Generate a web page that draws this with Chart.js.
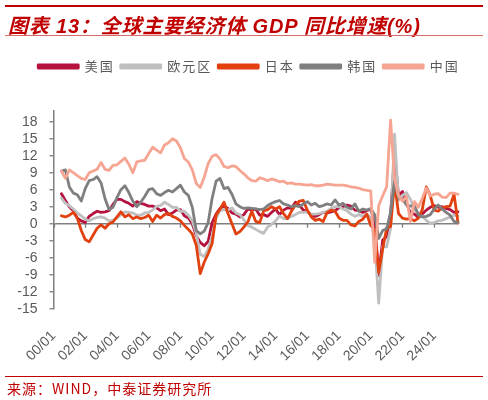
<!DOCTYPE html>
<html>
<head>
<meta charset="utf-8">
<script src="https://cdn.jsdelivr.net/npm/chart.js@4.4.1/dist/chart.umd.min.js"></script>
<style>
  html, body { margin: 0; padding: 0; background: #fff; }
  #wrap { position: relative; width: 488px; height: 400px; overflow: hidden; background: #fff; }
  #c { position: absolute; left: 0; top: 0; }
  .rule { position: absolute; left: 5px; width: 478px; }
  #title { position: absolute; left: 8px; top: 10px; line-height: 24px; white-space: nowrap;
    font: italic bold 20px "Liberation Sans", "Noto Sans CJK SC", sans-serif; color: #C00000; letter-spacing: 0.8px; }
  #source { position: absolute; left: 7px; top: 378px; line-height: 18px; white-space: nowrap;
    font: 14px "Noto Sans CJK SC", "Liberation Sans", sans-serif; color: #C00000; letter-spacing: 1px; }
</style>
</head>
<body>
<div id="wrap">
  <canvas id="c" width="488" height="400"></canvas>
  <div class="rule" style="top:5px;height:2px;background:#C00000"></div>
  <div id="title">图表 13：全球主要经济体 GDP 同比增速(%)</div>
  <div class="rule" style="top:35px;height:1px;background:#D96A6A"></div>
  <div class="rule" style="top:376px;height:1px;background:#C00000"></div>
  <div id="source">来源：WIND，中泰证券研究所</div>
</div>
<script>
// ---------- data ----------
const quarters = [
  '2000Q2','2000Q3','2000Q4',
  '2001Q1','2001Q2','2001Q3','2001Q4','2002Q1','2002Q2','2002Q3','2002Q4',
  '2003Q1','2003Q2','2003Q3','2003Q4','2004Q1','2004Q2','2004Q3','2004Q4',
  '2005Q1','2005Q2','2005Q3','2005Q4','2006Q1','2006Q2','2006Q3','2006Q4',
  '2007Q1','2007Q2','2007Q3','2007Q4','2008Q1','2008Q2','2008Q3','2008Q4',
  '2009Q1','2009Q2','2009Q3','2009Q4','2010Q1','2010Q2','2010Q3','2010Q4',
  '2011Q1','2011Q2','2011Q3','2011Q4','2012Q1','2012Q2','2012Q3','2012Q4',
  '2013Q1','2013Q2','2013Q3','2013Q4','2014Q1','2014Q2','2014Q3','2014Q4',
  '2015Q1','2015Q2','2015Q3','2015Q4','2016Q1','2016Q2','2016Q3','2016Q4',
  '2017Q1','2017Q2','2017Q3','2017Q4','2018Q1','2018Q2','2018Q3','2018Q4',
  '2019Q1','2019Q2','2019Q3','2019Q4','2020Q1','2020Q2','2020Q3','2020Q4',
  '2021Q1','2021Q2','2021Q3','2021Q4','2022Q1','2022Q2','2022Q3','2022Q4',
  '2023Q1','2023Q2','2023Q3','2023Q4','2024Q1','2024Q2','2024Q3','2024Q4',
  '2025Q1','2025Q2'
];
const seriesNames = ['美国', '欧元区', '日本', '韩国', '中国'];

const usGDP = [
  5.3, 4.1, 3.0,
  2.3, 1.0, 0.5, 0.2,   1.3, 1.8, 2.2, 2.0,
  2.1, 2.3, 3.4, 4.3,   4.3, 3.9, 3.6, 3.1,
  3.9, 3.6, 3.4, 3.1,   3.1, 2.8, 2.3, 2.6,
  1.6, 1.9, 2.4, 2.5,   1.4, 1.0, 0.0, -2.1,
  -3.3, -3.9, -3.1, 0.2, 1.7, 2.7, 3.1, 2.7,
  1.9, 1.7, 1.2, 1.6,   2.6, 2.4, 2.6, 1.5,
  1.6, 1.3, 2.0, 2.6,   1.6, 2.4, 2.8, 2.7,
  3.8, 3.3, 2.4, 2.2,   1.5, 1.3, 1.6, 2.0,
  1.9, 2.1, 2.3, 2.8,   3.0, 3.3, 3.1, 2.4,
  2.3, 2.0, 2.3, 2.6,   0.3, -9.1, -2.9, -2.3,
  1.6, 12.2, 5.0, 5.7,  3.6, 1.9, 1.7, 1.1,
  1.7, 2.4, 2.9, 3.2,   2.9, 3.0, 2.7, 2.5,
  2.0, 2.1
];
const euroGDP = [
  4.5, 3.6, 3.2,
  2.6, 1.9, 1.4, 0.8,   0.5, 0.9, 1.1, 1.2,
  1.0, 0.5, 0.6, 1.0,   1.6, 2.1, 2.0, 1.9,
  1.5, 1.5, 1.9, 2.0,   2.4, 3.1, 3.2, 3.8,
  3.4, 2.9, 2.9, 2.2,   2.2, 1.5, 0.5, -1.7,
  -5.4, -5.8, -4.5, -2.2, 1.0, 2.3, 2.5, 2.4,
  2.8, 1.9, 1.6, 0.7,   -0.3, -0.6, -1.0, -1.4,
  -1.7, -0.6, -0.1, 0.5, 1.4, 0.9, 0.9, 1.3,
  1.6, 2.0, 2.0, 2.1,   1.7, 1.7, 1.8, 2.0,
  2.2, 2.7, 3.0, 3.0,   2.6, 2.3, 1.7, 1.3,
  1.6, 1.3, 1.6, 1.1,   -3.1, -14.0, -4.0, -4.1,
  -0.8, 15.8, 4.1, 5.0, 5.5, 4.3, 2.5, 1.8,
  1.3, 0.6, 0.1, 0.2,   0.5, 0.6, 0.9, 1.2,
  1.5, 1.4
];
const japanGDP = [
  1.4, 1.2, 1.5,
  2.0, 1.0, -1.2, -2.8, -3.2, -2.0, -0.8, -0.2,
  -0.8, 0.0, 0.3, 1.2,  2.1, 1.2, 1.6, 0.9,
  1.2, 0.9, 1.1, 1.5,   0.4, 1.5, 1.0, 1.6,
  1.8, 1.3, 1.0, 0.5,   -0.3, -1.0, -1.8, -3.8,
  -8.8, -6.8, -5.3, -3.5, 1.5, 2.6, 3.8, 1.8,
  0.0, -1.8, -1.4, -0.6, 0.3, 2.2, 0.4, 0.2,
  2.3, 2.5, 3.0, 2.6,   3.0, 1.8, 0.9, 2.2,
  3.3, 4.0, 4.1, 2.4,   1.2, 0.6, 0.8, 0.4,
  2.0, 2.4, 2.2, 1.0,   0.6, 0.6, -0.2, -0.4,
  0.4, 0.8, 1.7, -0.3,  -1.0, -8.6, -4.5, -0.8,
  -0.5, 7.2, 1.8, 1.0,  0.8, 0.9, 0.5, 1.0,
  2.5, 6.5, 5.0, 2.4,   2.2, 2.8, 3.0, 3.1,
  5.2, 0.1
];
const koreaGDP = [
  9.3, 9.5, 6.5,
  5.4, 5.1, 4.0, 6.2,   7.6, 7.8, 8.3, 7.2,
  4.4, 2.5, 2.9, 4.6,   6.0, 6.7, 5.5, 4.0,
  3.0, 3.8, 4.8, 6.0,   6.2, 5.3, 5.0, 5.5,
  5.9, 5.6, 6.2, 6.8,   5.6, 5.0, 2.9, -1.2,
  -1.8, -1.3, 0.2, 4.5, 7.5, 8.0, 6.2, 6.4,
  5.2, 3.5, 3.0, 2.7,   2.8, 2.7, 2.6, 2.5,
  2.6, 3.2, 3.6, 3.9,   4.1, 3.5, 3.3, 3.0,
  3.2, 3.0, 3.5, 3.9,   3.3, 3.6, 3.0, 3.2,
  3.5, 3.3, 4.2, 3.3,   3.6, 2.9, 2.6, 3.5,
  2.2, 2.6, 2.4, 2.7,   1.6, -2.6, -1.2, -0.9,
  2.0, 7.5, 4.5, 4.4,   3.3, 3.1, 3.2, 1.6,
  1.2, 1.3, 1.6, 2.6,   3.3, 2.6, 2.0, 1.5,
  0.4, 0.2
];
const chinaGDP = [
  9.3, 8.0, 9.5,
  9.0, 8.5, 8.0, 7.8,   9.0, 9.3, 9.6, 10.8,
  9.6, 9.4, 10.3, 10.4, 11.0, 11.6, 10.5, 9.0,
  10.9, 11.1, 11.2, 12.4, 13.5, 13.0, 12.5, 13.9,
  14.3, 15.0, 14.6, 13.4, 11.5, 10.9, 9.5, 7.1,
  6.4, 8.2, 10.6, 11.9, 12.2, 11.4, 10.1, 9.9,
  10.2, 10.1, 9.4, 8.8, 8.1, 7.6, 7.5, 8.1,
  7.9, 7.6, 7.9, 7.7,   7.4, 7.5, 7.1, 7.2,
  7.0, 7.0, 6.9, 6.8,   6.9, 6.7, 6.7, 6.8,
  7.0, 6.9, 6.8, 6.8,   6.8, 6.7, 6.5, 6.4,
  6.3, 6.0, 5.9, 5.8,   -6.8, 3.2, 4.9, 6.5,
  18.3, 7.9, 4.9, 4.0,  4.8, 0.4, 3.9, 2.9,
  4.5, 6.3, 4.9, 5.2,   5.3, 4.7, 4.6, 5.4,
  5.4, 5.2
];

const xTickMonths = [0, 24, 48, 72, 96, 120, 144, 168, 192, 216, 240, 264, 288];
const xTickLabels = ['00/01','02/01','04/01','06/01','08/01','10/01','12/01','14/01','16/01','18/01','20/01','22/01','24/01'];
const yTickValues = [-15, -12, -9, -6, -3, 0, 3, 6, 9, 12, 15, 18];

// ---------- styling ----------
const colors = ['#B5123E', '#BFBFBF', '#E2410F', '#7F7F7F', '#F7A593'];
const drawOrder = [4, 3, 2, 1, 0]; // later series drawn on top
const AXIS_GRAY = '#7F7F7F';
const TEXT_GRAY = '#595959';
const LEGEND_SPACING = '2px';
const LEGEND_HEIGHT = 56.4;
const LEGEND_SHIFT = 20;

function monthPos(q) {
  const y = parseInt(q.slice(0, 4), 10);
  const n = parseInt(q.slice(5), 10);
  return (y - 2000) * 12 + n * 3;
}
const xMax = monthPos(quarters[quarters.length - 1]);

const allSeries = [usGDP, euroGDP, japanGDP, koreaGDP, chinaGDP];
const datasets = allSeries.map((arr, i) => ({
  label: seriesNames[i],
  data: arr.map((v, k) => ({ x: monthPos(quarters[k]), y: v })),
  borderColor: colors[i],
  backgroundColor: colors[i],
  borderWidth: 2.8,
  pointRadius: 0,
  pointHoverRadius: 0,
  tension: 0,
  borderJoinStyle: 'round',
  borderCapStyle: 'round',
  order: drawOrder[i],
  clip: false
}));

function patchLegend(chart) {
  const lg = chart.legend;
  if (!lg || lg._patched) return;
  lg._patched = true;
  const origFit = lg.fit.bind(lg);
  const origDraw = lg.draw.bind(lg);
  lg.fit = function () {
    const c = this.ctx;
    c.save();
    c.letterSpacing = LEGEND_SPACING;
    origFit();
    c.restore();
    this.height = LEGEND_HEIGHT;
  };
  lg.draw = function () {
    const c = this.ctx;
    c.save();
    c.letterSpacing = LEGEND_SPACING;
    c.translate(LEGEND_SHIFT, 0);
    origDraw();
    c.restore();
  };
}

const helperPlugin = {
  id: 'helper',
  afterInit(chart) { patchLegend(chart); },
  beforeUpdate(chart) { patchLegend(chart); },
  beforeDraw(chart) {
    const c = chart.ctx;
    c.save();
    c.fillStyle = '#ffffff';
    c.fillRect(0, 0, chart.width, chart.height);
    c.restore();
  },
  beforeDatasetsDraw(chart) {
    const xs = chart.scales.x, ys = chart.scales.y;
    const c = chart.ctx;
    const y0 = ys.getPixelForValue(0);
    c.save();
    c.strokeStyle = AXIS_GRAY;
    c.lineWidth = 1.3;
    xTickMonths.forEach(m => {
      const px = Math.round(xs.getPixelForValue(m)) + 0.5;
      c.beginPath();
      c.moveTo(px, y0);
      c.lineTo(px, y0 + 4);
      c.stroke();
    });
    c.restore();
  }
};

new Chart(document.getElementById('c'), {
  type: 'line',
  data: { datasets },
  plugins: [helperPlugin],
  options: {
    responsive: false,
    animation: false,
    devicePixelRatio: 1,
    layout: { padding: { top: 54, right: 30, bottom: 0, left: 0 } },
    plugins: {
      legend: {
        position: 'top',
        align: 'center',
        labels: {
          boxWidth: 40,
          boxHeight: 3,
          padding: 6,
          color: TEXT_GRAY,
          font: { family: '"Noto Sans CJK SC", sans-serif', size: 13 },
          sort: (a, b) => a.datasetIndex - b.datasetIndex
        }
      },
      tooltip: { enabled: false },
      title: { display: false }
    },
    scales: {
      x: {
        type: 'linear',
        min: 0,
        max: xMax,
        border: { display: false },
        grid: { display: false },
        afterBuildTicks: s => { s.ticks = xTickMonths.map(v => ({ value: v })); },
        afterFit: s => { s.height = 400 - 308.7; },
        ticks: {
          autoSkip: false,
          maxRotation: 45,
          minRotation: 45,
          padding: 11,
          color: TEXT_GRAY,
          font: { family: '"Liberation Sans", Arial, sans-serif', size: 14 },
          callback: v => { const i = xTickMonths.indexOf(v); return i >= 0 ? xTickLabels[i] : ''; }
        }
      },
      y: {
        min: -15,
        max: 20,
        border: { display: true, color: AXIS_GRAY, width: 1.5 },
        grid: {
          drawOnChartArea: true,
          color: ctx => (ctx.tick && ctx.tick.value === 0 ? AXIS_GRAY : 'rgba(0,0,0,0)'),
          lineWidth: 1.5,
          tickLength: 4,
          tickColor: AXIS_GRAY,
          tickWidth: 1.3
        },
        afterBuildTicks: s => { s.ticks = yTickValues.map(v => ({ value: v })); },
        afterFit: s => { s.width = 53.5; },
        ticks: {
          autoSkip: false,
          padding: 12,
          color: TEXT_GRAY,
          font: { family: '"Liberation Sans", Arial, sans-serif', size: 14 }
        }
      }
    }
  }
});
</script>
</body>
</html>
